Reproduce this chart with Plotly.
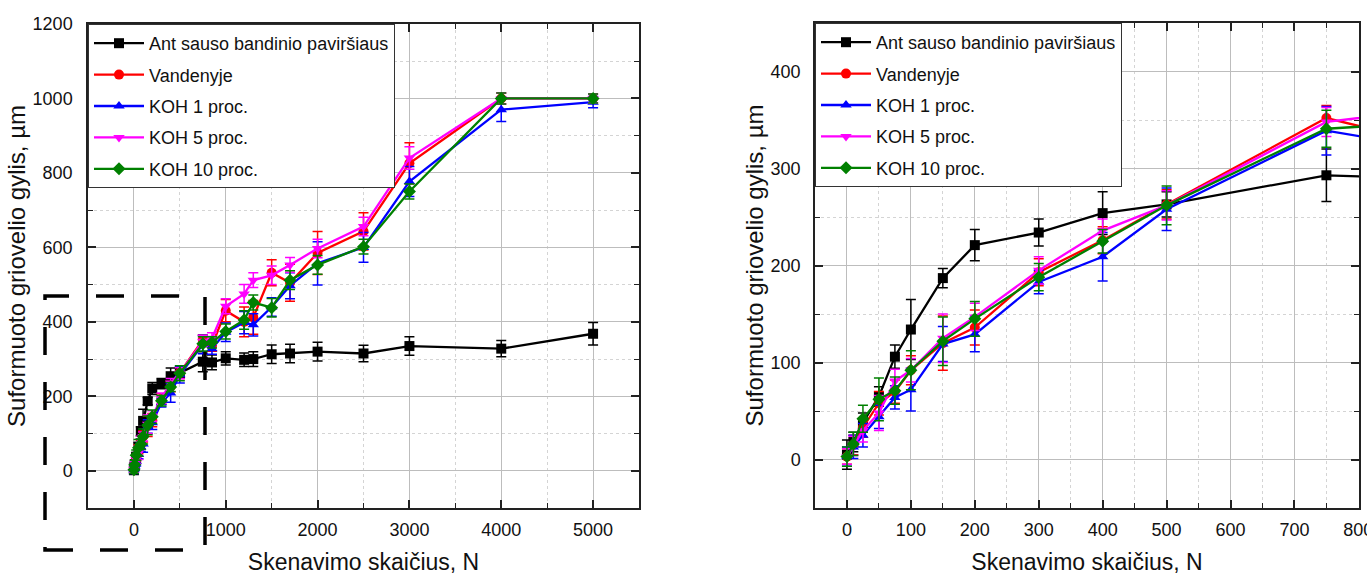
import plotly.graph_objects as go

W, H = 1367, 575

# ---------------- data ----------------
scans = [0, 10, 25, 50, 75, 100, 150, 200, 300, 400, 500, 750, 850,
         1000, 1200, 1300, 1500, 1700, 2000, 2500, 3000, 4000, 5000]

dry = [5, 18, 38, 65, 106, 134, 187, 221, 234, 254, 263, 293, 291,
       302, 298, 300, 313, 315, 320, 315, 335, 328, 368]
dry_err = [15, 10, 10, 10, 12, 31, 10, 16, 14, 22, 13, 27, 20,
           18, 18, 20, 25, 25, 25, 22, 25, 22, 30]

water = [3, 15, 33, 58, 70, 92, 120, 136, 193, 226, 263, 352, 336,
         430, 400, 412, 532, 505, 585, 643, 826, 1000, 1000]
water_err = [8, 10, 10, 12, 12, 15, 28, 18, 14, 14, 15, 13, 15,
             30, 40, 45, 35, 50, 58, 50, 55, 15, 12]

koh1 = [3, 13, 25, 44, 64, 72, 119, 129, 183, 209, 258, 339, 328,
        372, 398, 392, 440, 497, 557, 600, 777, 970, 990]
koh1_err = [10, 12, 12, 12, 12, 22, 18, 18, 12, 25, 22, 25, 15,
            25, 30, 30, 25, 35, 58, 40, 40, 32, 15]

koh5 = [3, 14, 30, 48, 81, 92, 125, 147, 195, 236, 262, 348, 356,
        442, 475, 512, 525, 553, 597, 656, 840, 1000, 1000]
koh5_err = [8, 10, 12, 18, 12, 12, 25, 14, 14, 12, 15, 15, 15,
            20, 25, 20, 25, 20, 25, 25, 30, 15, 12]

koh10 = [3, 16, 42, 62, 71, 92, 122, 145, 188, 225, 262, 341, 345,
         374, 405, 452, 438, 512, 553, 602, 750, 1000, 1000]
koh10_err = [10, 12, 14, 22, 14, 20, 25, 18, 14, 12, 20, 19, 15,
             20, 25, 20, 25, 25, 25, 20, 20, 15, 12]

names = ["Ant sauso bandinio paviršiaus", "Vandenyje", "KOH 1 proc.",
         "KOH 5 proc.", "KOH 10 proc."]
series = [dry, water, koh1, koh5, koh10]
errors = [dry_err, water_err, koh1_err, koh5_err, koh10_err]
colors = ["#000000", "#FF0000", "#0000FF", "#FF00FF", "#008000"]
symbols = ["square", "circle", "triangle-up", "triangle-down", "diamond"]

x_title = "Skenavimo skaičius, N"
y_title = "Suformuoto griovelio gylis, µm"

# ---------------- figure ----------------
FONT = "Liberation Sans, Arial, sans-serif"
fig = go.Figure()

for panel, (xa, ya, lg) in enumerate([("x", "y", "legend"), ("x2", "y2", "legend2")]):
    for i in range(5):
        fig.add_trace(go.Scatter(
            x=scans, y=series[i], name=names[i],
            mode="lines+markers",
            line=dict(color=colors[i], width=2.3),
            marker=dict(symbol=symbols[i], size=10, color=colors[i]),
            error_y=dict(type="data", array=errors[i], visible=True,
                         color=colors[i], thickness=1.5, width=5),
            xaxis=xa, yaxis=ya, legend=lg, legendgroup=f"g{panel}{i}",
            cliponaxis=True,
        ))

def px_x(p):
    return p / W

def px_y(p):
    return 1 - p / H

axis_common = dict(
    showline=True, linecolor="#222", linewidth=1.5, mirror="ticks",
    ticks="inside", ticklen=8, tickwidth=1.5, tickcolor="#222",
    showgrid=True, gridcolor="#bdbdbd", gridwidth=1.4,
    zeroline=False, automargin=False, ticklabeloverflow="allow",
    tickfont=dict(family=FONT, size=18, color="#111"),
)

def minor(dt):
    return dict(dtick=dt, ticks="inside", ticklen=5, tickwidth=1.2,
                tickcolor="#222", showgrid=True, gridcolor="#d4d4d4",
                griddash="dot", gridwidth=1)

xt_font = dict(family=FONT, size=23, color="#111")
yt_font = dict(family=FONT, size=24, color="#111")

legend_common = dict(
    xanchor="left", yanchor="top",
    bgcolor="white", bordercolor="#333", borderwidth=1,
    font=dict(family=FONT, size=18, color="#111"),
    itemwidth=50, tracegroupgap=5, traceorder="grouped",
)

fig.update_layout(
    width=W, height=H,
    margin=dict(l=0, r=0, t=0, b=0),
    paper_bgcolor="white", plot_bgcolor="white",
    font=dict(family=FONT, color="#111"),
    xaxis=dict(domain=[px_x(88), px_x(639)], range=[-500, 5500],
               tick0=0, dtick=1000, minor=minor(500), anchor="y",
               title=dict(text=x_title, standoff=16, font=xt_font),
               ticklabelstandoff=5, **axis_common),
    yaxis=dict(domain=[px_y(508), px_y(24)], range=[-100, 1200],
               tick0=0, dtick=200, minor=minor(100), anchor="x",
               title=dict(text=y_title, standoff=0, font=yt_font),
               ticklabelstandoff=10, **axis_common),
    xaxis2=dict(domain=[px_x(815), px_x(1359)], range=[-50, 801],
                tick0=0, dtick=100, minor=minor(50), anchor="y2",
                title=dict(text=x_title, standoff=16, font=xt_font),
                ticklabelstandoff=5, **axis_common),
    yaxis2=dict(domain=[px_y(508), px_y(23)], range=[-50, 450],
                tick0=0, dtick=100, minor=minor(50), anchor="x2",
                title=dict(text=y_title, standoff=0, font=yt_font),
                ticklabelstandoff=9, **axis_common),
    legend=dict(x=px_x(88), y=px_y(24), **legend_common),
    legend2=dict(x=px_x(815), y=px_y(23), **legend_common),
    showlegend=True,
)

# dashed zoom-region frame on the left panel (extends beyond the axes)
fig.add_shape(type="rect", xref="paper", yref="paper",
              x0=px_x(45), x1=px_x(205), y0=px_y(550), y1=px_y(296),
              line=dict(color="black", width=3.5, dash="28px,27px"),
              fillcolor="rgba(0,0,0,0)", layer="above")

fig.write_html("out.html",
               config={"displayModeBar": False},
               post_script="document.body.style.margin='0px';"
                           "document.body.style.overflow='hidden';")
